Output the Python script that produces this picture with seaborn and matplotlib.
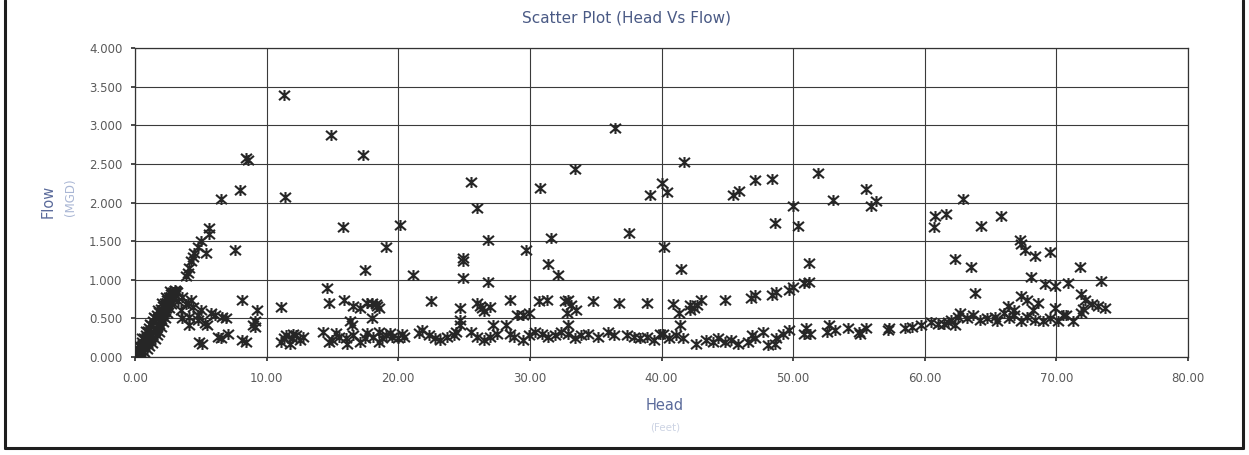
import matplotlib
matplotlib.use("Agg")
import matplotlib.pyplot as plt
import pandas as pd
import seaborn as sns
from matplotlib.path import Path
from matplotlib.lines import Line2D

# ---------------- data ----------------
# dense crescent near the origin
head_crescent = [0.05, 0.2, 0.35, 0.5, 0.65, 0.8, 0.95, 1.1, 1.25, 1.4, 1.55, 1.7, 1.85, 2.0, 2.15, 2.3, 2.45, 2.6, 2.75, 2.9, 3.05,
                 0.3, 0.5, 0.7, 0.9, 1.1, 1.3, 1.5, 1.7, 1.85, 2.0, 2.15, 2.3, 2.45, 2.6, 2.75, 2.9, 3.05, 3.2,
                 0.15, 0.4, 0.6, 0.8, 1.0, 1.2, 1.4, 1.6, 1.75, 1.9, 2.05, 2.2, 2.35, 2.5, 2.65, 2.8, 2.95, 3.1,
                 0.0, 0.25, 0.55, 0.85, 1.15, 1.45, 1.75, 2.05, 2.35, 2.65]
flow_crescent = [0.04, 0.09, 0.14, 0.19, 0.24, 0.29, 0.34, 0.38, 0.42, 0.46, 0.50, 0.54, 0.58, 0.62, 0.66, 0.70, 0.74, 0.78, 0.81, 0.84, 0.87,
                 0.02, 0.04, 0.07, 0.10, 0.14, 0.18, 0.23, 0.28, 0.33, 0.39, 0.45, 0.51, 0.57, 0.63, 0.69, 0.75, 0.80, 0.84,
                 0.03, 0.08, 0.13, 0.18, 0.23, 0.28, 0.33, 0.38, 0.43, 0.48, 0.53, 0.58, 0.63, 0.68, 0.73, 0.77, 0.81, 0.85,
                 0.08, 0.15, 0.25, 0.34, 0.43, 0.52, 0.61, 0.70, 0.78, 0.85]

# points between the crescent and Head = 10
head_near = [3.6, 4.0, 4.25, 4.4, 3.5, 3.6, 4.1, 4.1, 4.8, 5.0, 4.75, 5.3, 5.5, 5.8, 6.1, 6.9, 6.6, 8.1, 9.25, 9.1, 9.1, 9.0,
             4.9, 5.1, 6.5, 7.1, 6.3, 8.4, 8.1, 3.9, 3.3,
             3.9, 4.0, 4.1, 4.25, 4.4, 4.5, 4.8, 5.0, 5.4, 5.6, 5.6, 7.6,
             6.5, 8.0, 8.4, 8.55]
flow_near = [0.78, 0.70, 0.74, 0.65, 0.61, 0.50, 0.52, 0.41, 0.48, 0.61, 0.55, 0.44, 0.41, 0.57, 0.54, 0.50, 0.52, 0.74, 0.61, 0.46, 0.39, 0.42,
             0.20, 0.17, 0.24, 0.30, 0.26, 0.20, 0.22, 0.68, 0.72,
             1.05, 1.09, 1.15, 1.24, 1.30, 1.35, 1.42, 1.50, 1.35, 1.59, 1.67, 1.39,
             2.05, 2.16, 2.58, 2.55]

# low band (Flow ~0.15 - 0.57)
head_low = [11.1, 11.3, 11.5, 11.75, 11.9, 12.0, 12.25, 12.5, 12.75, 14.25, 14.75, 15.0, 15.3, 15.5, 16.0, 16.1, 16.6, 17.1, 17.5,
            17.6, 18.1, 18.5, 18.5, 18.75, 19.1, 19.4, 19.5, 20.0, 20.4,
            20.3, 21.6, 21.8, 22.3, 22.8, 23.2, 23.7, 24.2, 24.4, 25.5, 26.0, 26.5, 27.0, 27.5, 28.5, 28.8, 29.5, 29.9,
            30.4, 30.9, 31.4, 31.9, 32.4, 32.9, 33.4, 33.9, 34.4, 35.2, 35.9, 36.4, 37.4, 37.9, 38.4, 38.9, 39.4, 39.9,
            40.1, 40.6, 41.1, 41.6, 42.6, 43.4, 43.9, 44.3, 44.8, 45.3, 45.8, 46.6, 46.9, 47.1, 47.7, 48.1, 48.6, 48.7, 49.2, 49.7,
            50.8, 51.0, 51.3, 52.6, 52.7, 53.2, 54.2, 55.0, 55.5, 55.1, 57.2, 57.3, 58.5, 59.0, 59.7, 60.5, 61.0, 61.5, 61.8, 62.0, 62.3,
            62.5, 62.7, 63.2, 63.7, 64.2, 64.7, 65.3, 65.5, 66.0, 66.4, 66.8, 67.3, 67.8, 68.4, 69.0, 69.5, 70.1, 70.7, 71.3]
flow_low = [0.20, 0.24, 0.28, 0.17, 0.24, 0.30, 0.28, 0.22, 0.26, 0.33, 0.20, 0.22, 0.31, 0.26, 0.24, 0.17, 0.28, 0.20, 0.24,
            0.31, 0.26, 0.33, 0.20, 0.24, 0.28, 0.31, 0.26, 0.24, 0.26,
            0.30, 0.31, 0.35, 0.28, 0.24, 0.22, 0.26, 0.28, 0.33, 0.33, 0.26, 0.22, 0.26, 0.30, 0.30, 0.26, 0.22, 0.28,
            0.33, 0.30, 0.26, 0.28, 0.33, 0.30, 0.24, 0.28, 0.30, 0.26, 0.33, 0.28, 0.28, 0.26, 0.24, 0.26, 0.22, 0.30,
            0.30, 0.24, 0.28, 0.24, 0.17, 0.22, 0.20, 0.24, 0.20, 0.22, 0.17, 0.20, 0.28, 0.24, 0.32, 0.15, 0.17, 0.24, 0.30, 0.35,
            0.30, 0.37, 0.30, 0.33, 0.41, 0.35, 0.37, 0.32, 0.37, 0.30, 0.35, 0.37, 0.37, 0.39, 0.41, 0.45, 0.43, 0.43, 0.45, 0.48, 0.41,
            0.52, 0.57, 0.50, 0.54, 0.48, 0.50, 0.52, 0.46, 0.57, 0.50, 0.54, 0.46, 0.52, 0.48, 0.46, 0.50, 0.46, 0.54, 0.46]

# middle band (Flow ~0.4 - 1.0)
head_mid = [11.1, 14.6, 14.75, 15.9, 16.3, 16.5, 16.6, 17.1, 17.6, 18.0, 18.3, 18.4, 18.5, 18.0,
            22.5, 24.7, 24.7, 24.7, 26.0, 26.4, 26.2, 26.5, 27.0, 27.2, 28.2, 28.5, 29.0, 29.5, 29.9, 26.8, 24.9,
            30.7, 31.3, 32.7, 32.9, 33.1, 33.5, 32.8, 32.9, 34.8, 36.8, 38.9,
            40.9, 41.3, 41.4, 42.2, 42.7, 43.0, 42.2, 42.5, 44.8, 46.8, 47.1, 48.4, 48.7, 49.7, 50.0, 50.8, 51.2,
            63.8, 66.3, 66.8, 67.3, 67.8, 68.1, 68.2, 68.6, 69.1, 69.9, 69.9, 70.5, 70.9, 71.9, 72.2, 72.7, 73.2, 73.7,
            71.9, 73.4, 72.0]
flow_mid = [0.65, 0.89, 0.70, 0.74, 0.46, 0.41, 0.66, 0.63, 0.70, 0.70, 0.68, 0.66, 0.63, 0.50,
            0.72, 0.63, 0.48, 0.41, 0.70, 0.63, 0.66, 0.60, 0.65, 0.41, 0.41, 0.74, 0.54, 0.54, 0.57, 0.97, 1.02,
            0.72, 0.74, 0.72, 0.74, 0.67, 0.61, 0.57, 0.41, 0.72, 0.70, 0.70,
            0.68, 0.57, 0.41, 0.67, 0.67, 0.74, 0.61, 0.63, 0.74, 0.76, 0.80, 0.80, 0.84, 0.87, 0.91, 0.96, 0.97,
            0.83, 0.66, 0.61, 0.79, 0.74, 1.03, 0.61, 0.70, 0.94, 0.92, 0.64, 0.54, 0.96, 0.81, 0.74, 0.68, 0.66, 0.64,
            0.57, 0.98, 0.62]

# high outliers (Flow > 1.0)
head_high = [11.4, 11.3, 14.9, 15.8, 17.3, 17.5, 19.1, 20.1, 21.1,
             24.9, 24.9, 25.5, 26.0, 26.8, 29.7, 30.8, 31.4, 31.6, 32.1, 33.45, 36.5, 37.5, 39.1, 40.0, 40.4, 40.2,
             41.5, 41.7, 45.4, 45.9, 47.1, 48.4, 48.6, 50.0, 50.4, 51.2, 51.9, 53.0, 55.5, 55.9, 56.3,
             60.7, 60.8, 61.6, 62.3, 62.9, 63.5, 64.3, 65.8, 67.2, 67.3, 67.6, 68.35, 69.5, 71.8]
flow_high = [2.07, 3.39, 2.87, 1.68, 2.61, 1.13, 1.43, 1.71, 1.06,
             1.28, 1.24, 2.26, 1.93, 1.51, 1.39, 2.19, 1.20, 1.54, 1.06, 2.44, 2.97, 1.60, 2.10, 2.25, 2.14, 1.42,
             1.14, 2.53, 2.10, 2.15, 2.29, 2.31, 1.74, 1.95, 1.70, 1.22, 2.38, 2.03, 2.18, 1.95, 2.02,
             1.68, 1.83, 1.85, 1.27, 2.05, 1.16, 1.70, 1.82, 1.51, 1.46, 1.38, 1.31, 1.36, 1.17]

x_ticks = [0, 10, 20, 30, 40, 50, 60, 70, 80]
x_tick_labels = ["0.00", "10.00", "20.00", "30.00", "40.00", "50.00", "60.00", "70.00", "80.00"]
y_ticks = [0, 0.5, 1.0, 1.5, 2.0, 2.5, 3.0, 3.5, 4.0]
y_tick_labels = ["0.000", "0.500", "1.000", "1.500", "2.000", "2.500", "3.000", "3.500", "4.000"]

title = "Scatter Plot (Head Vs Flow)"
x_label = "Head"
x_unit = "(Feet)"
y_label = "Flow"
y_unit = "(MGD)"

# ---------------- figure ----------------
head = head_crescent + head_near + head_low + head_mid + head_high
flow = flow_crescent + flow_near + flow_low + flow_mid + flow_high
df = pd.DataFrame({"Head": head, "Flow": flow})

sns.set_theme(style="white")
plt.rcParams['font.family'] = ['DejaVu Sans']

W, H = 1249, 455
fig = plt.figure(figsize=(W / 100, H / 100), dpi=100)
fig.patch.set_facecolor("white")
ax = fig.add_axes([135 / W, 1 - 357 / H, (1188 - 135) / W, (357 - 48) / H])

star = Path([(-1, -0.85), (1, 0.85), (-1, 0.85), (1, -0.85), (0, -1), (0, 1)],
            [Path.MOVETO, Path.LINETO, Path.MOVETO, Path.LINETO, Path.MOVETO, Path.LINETO])

sns.scatterplot(data=df, x="Head", y="Flow", marker=star, s=62, color="#262626",
                edgecolor="#262626", linewidth=1.5, ax=ax, zorder=3, legend=False)

ax.set_xlim(0, 80)
ax.set_ylim(0, 4)
ax.set_xticks(x_ticks)
ax.set_xticklabels(x_tick_labels)
ax.set_yticks(y_ticks)
ax.set_yticklabels(y_tick_labels)
ax.set_xlabel("")
ax.set_ylabel("")
ax.grid(True, color="#3a3a3a", lw=0.8)
ax.set_axisbelow(True)
for sp in ax.spines.values():
    sp.set_color("#333333")
    sp.set_linewidth(0.9)
ax.tick_params(axis="both", left=True, bottom=True, length=3, color="#333333",
               labelsize=8.5, labelcolor="#5a5a5a")
ax.tick_params(axis="x", pad=8)
ax.tick_params(axis="y", pad=6)

fig.text(626 / W, 1 - 18 / H, title, ha="center", va="center", fontsize=11, color="#4a5a85")
fig.text(665 / W, 1 - 405 / H, x_label, ha="center", va="center", fontsize=10.5, color="#5b6b9b")
fig.text(665 / W, 1 - 428 / H, x_unit, ha="center", va="center", fontsize=7.5, color="#cdd4e4")
fig.text(48 / W, 1 - 201 / H, y_label, ha="center", va="center", rotation=90, fontsize=10.5, color="#5b6b9b")
fig.text(70 / W, 1 - 197 / H, y_unit, ha="center", va="center", rotation=90, fontsize=8.5, color="#a9b6d4")

# chart area border (left, right, bottom)
for xs, ys in [([5 / W, 5 / W], [1 - 448 / H, 1.0]),
               ([1243 / W, 1243 / W], [1 - 448 / H, 1.0]),
               ([5 / W, 1243 / W], [1 - 448 / H, 1 - 448 / H])]:
    fig.add_artist(Line2D(xs, ys, transform=fig.transFigure, color="#1e1e1e", lw=2.2))

fig.savefig("out.png", dpi=100, facecolor="white")
